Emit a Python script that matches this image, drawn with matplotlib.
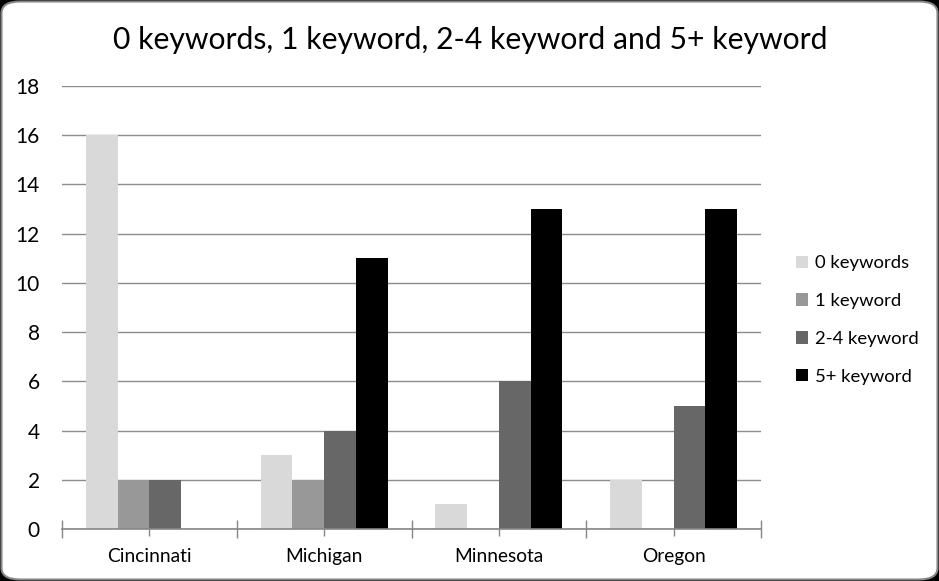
import matplotlib
matplotlib.use("Agg")
import matplotlib.pyplot as plt
import numpy as np
from matplotlib.patches import FancyBboxPatch

categories = ["Cincinnati", "Michigan", "Minnesota", "Oregon"]
series_names = ["0 keywords", "1 keyword", "2-4 keyword", "5+ keyword"]
zero_kw = [16, 3, 1, 2]
one_kw = [2, 2, 0, 0]
two_four_kw = [2, 4, 6, 5]
five_plus_kw = [0, 11, 13, 13]
colors = ["#D9D9D9", "#989898", "#676767", "#000000"]
yticks = [0, 2, 4, 6, 8, 10, 12, 14, 16, 18]

plt.rcParams['font.family'] = ['Lato', 'DejaVu Sans']

W, H = 939, 581
fig = plt.figure(figsize=(W/100, H/100), dpi=100)
fig.patch.set_facecolor("black")

bg = FancyBboxPatch((1.5/W, 1.5/H), (W-3)/W, (H-3)/H,
                    boxstyle="round,pad=0,rounding_size=0.02",
                    transform=fig.transFigure, facecolor="white",
                    edgecolor="#868686", linewidth=1.5, zorder=-10)
fig.patches.append(bg)

left, right = 62/W, 761/W
bottom, top = 1 - 529/H, 1 - 86/H
ax = fig.add_axes([left, bottom, right-left, top-bottom])
ax.set_zorder(1)
ax.set_facecolor("none")

n = len(categories)
x = np.arange(n)
bw = 1/5.5
data = [zero_kw, one_kw, two_four_kw, five_plus_kw]
for i, (vals, c, name) in enumerate(zip(data, colors, series_names)):
    ax.bar(x + (i - 1.5)*bw, vals, width=bw, color=c, label=name, zorder=3)

ax.set_xlim(-0.5, n-0.5)
ax.set_ylim(0, 18)
ax.set_yticks(yticks)
ax.set_yticklabels([str(v) for v in yticks], fontsize=15)
ax.yaxis.grid(True, color="#8C8C8C", linewidth=1, zorder=0)
ax.set_axisbelow(True)
ax.tick_params(axis='y', length=0, pad=16)

ax.set_xticks(np.arange(-0.5, n, 1.0))
ax.set_xticklabels([])
ax.set_xticks(x, minor=True)
ax.set_xticklabels(categories, minor=True, fontsize=13.8)
ax.tick_params(axis='x', which='major', direction='inout', length=13, color="#868686", width=1)
ax.tick_params(axis='x', which='minor', direction='out', length=5, color="#868686", width=1, pad=9)

for s in ["top", "right", "left"]:
    ax.spines[s].set_visible(False)
ax.spines["bottom"].set_color("#868686")
ax.spines["bottom"].set_linewidth(1.2)
ax.spines["bottom"].set_zorder(4)

fig.text(470/W, 1 - 40/H, "0 keywords, 1 keyword, 2-4 keyword and 5+ keyword",
         ha="center", va="center", fontsize=21.7)

leg = fig.legend(loc="center left", bbox_to_anchor=(779/W, 1 - 320/H),
                 frameon=False, fontsize=13.3, handlelength=0.65, handleheight=0.65,
                 handletextpad=0.4, labelspacing=1.18)

fig.savefig("out.png", dpi=100, facecolor=fig.get_facecolor())
